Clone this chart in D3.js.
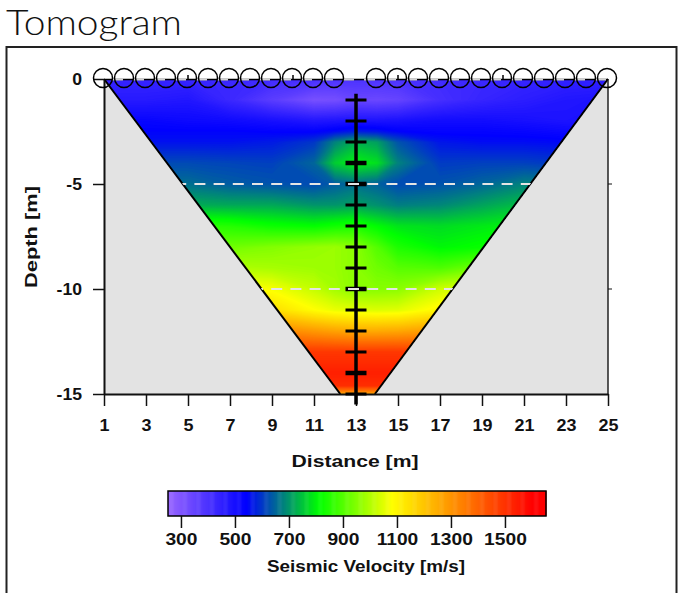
<!DOCTYPE html>
<html>

<head>
    <meta charset="utf-8">
    <title>Tomogram</title>
    <script src="https://d3js.org/d3.v7.min.js" charset="utf-8"></script>
    <style type="text/css">
        body {
            margin: 0;
            background: #fff;
        }

        text {
            font-family: "Liberation Sans", Arial, sans-serif;
            font-weight: bold;
            fill: #111;
        }

        .title {
            font-family: Lato, sans-serif;
            font-weight: 300;
            font-size: 34.5px;
        }

        .axis text {
            font-size: 16px;
        }

        .axis line,
        .axis path {
            stroke: #111;
        }
    </style>
</head>

<body>
    <script type="text/javascript">
        // grid nodes of the tomogram
        var distances = [1, 3, 5, 7, 9, 11, 12, 13, 14, 15, 17, 19, 21, 23, 25];
        var depths = [0, 1, 2, 2.5, 3, 4, 5, 6, 7, 8, 9, 10, 11, 12, 13, 14, 14.6, 15];

        // velocity in m/s, one row per depth
        var velocity = [
            [440, 440, 440, 430, 420, 410, 400, 400, 400, 400, 420, 430, 440, 450, 450],
            [470, 470, 480, 430, 370, 315, 320, 345, 340, 350, 410, 440, 460, 480, 490],
            [530, 530, 520, 515, 500, 480, 485, 490, 490, 495, 510, 510, 500, 490, 490],
            [545, 545, 545, 545, 540, 540, 555, 575, 565, 545, 535, 535, 530, 520, 520],
            [560, 560, 560, 560, 570, 600, 680, 730, 710, 630, 565, 555, 555, 550, 550],
            [620, 620, 620, 615, 610, 650, 760, 800, 780, 680, 605, 610, 610, 600, 600],
            [660, 660, 660, 640, 630, 620, 640, 660, 645, 620, 630, 650, 680, 680, 680],
            [730, 730, 725, 720, 720, 700, 700, 710, 695, 675, 685, 715, 745, 760, 760],
            [860, 860, 860, 850, 825, 815, 830, 840, 810, 785, 775, 790, 805, 830, 830],
            [930, 930, 930, 930, 950, 969, 975, 958, 900, 842, 805, 820, 874, 880, 880],
            [1000, 1000, 1000, 1000, 990, 980, 975, 958, 930, 905, 895, 937, 975, 1000, 1000],
            [1090, 1090, 1090, 1090, 1075, 1020, 985, 955, 955, 960, 1030, 1060, 1060, 1060, 1060],
            [1200, 1200, 1200, 1200, 1150, 1085, 1060, 1050, 1045, 1050, 1100, 1150, 1150, 1150, 1150],
            [1350, 1350, 1350, 1350, 1330, 1290, 1270, 1255, 1255, 1260, 1290, 1350, 1350, 1350, 1350],
            [1480, 1480, 1480, 1480, 1480, 1490, 1490, 1490, 1490, 1490, 1480, 1480, 1480, 1480, 1480],
            [1540, 1540, 1540, 1540, 1540, 1540, 1540, 1540, 1540, 1540, 1540, 1540, 1540, 1540, 1540],
            [1510, 1510, 1510, 1510, 1510, 1510, 1510, 1510, 1510, 1510, 1510, 1510, 1510, 1510, 1510],
            [1260, 1260, 1260, 1260, 1260, 1260, 1260, 1260, 1260, 1260, 1260, 1260, 1260, 1260, 1260]
        ];

        var coverage = [[1, 0], [25, 0], [13.9, 15], [12.25, 15]]; // edge of the ray coverage
        var electrodes = [1, 2, 3, 4, 5, 6, 7, 8, 9, 10, 11, 12, 14, 15, 16, 17, 18, 19, 20, 21, 22, 23, 24, 25];
        var geophones = [1, 2, 3, 4, 5, 6, 7, 8, 9, 10, 11, 12, 13, 14, 15];
        var boreholeX = 13;
        var gridDepths = [0, 5, 10];
        var distanceTicks = [1, 3, 5, 7, 9, 11, 13, 15, 17, 19, 21, 23, 25];
        var depthTicks = [0, 5, 10, 15];
        var legendTicks = [300, 500, 700, 900, 1100, 1300, 1500];
        var colorStops = [250, 540, 810, 1080, 1600];
        var colorRange = ["#9966ff", "#0000ff", "#00ff00", "#ffff00", "#ff0000"];

        var width = 679, height = 593;

        var x = d3.scaleLinear().domain([1, 25]).range([104, 608]);
        var y = d3.scaleLinear().domain([0, 15]).range([79, 394]);
        var legendX = d3.scaleLinear().domain([252, 1652]).range([168, 546]);
        var color = d3.scaleLinear().domain(colorStops).range(colorRange).clamp(true);

        var svg = d3.select("body").append("svg")
            .attr("width", width)
            .attr("height", height)
            .style("display", "block");

        // the labels in the original are stretched sideways
        function stretch(selection, k) {
            selection.each(function () {
                var w = this.getComputedTextLength();
                d3.select(this).attr("textLength", w * k).attr("lengthAdjust", "spacingAndGlyphs");
            });
        }

        svg.append("text").attr("class", "title")
            .attr("x", 6).attr("y", 34.5)
            .attr("textLength", 176).attr("lengthAdjust", "spacingAndGlyphs")
            .text("Tomogram");

        // frame, runs off the bottom of the page
        svg.append("rect")
            .attr("x", 6.5).attr("y", 47)
            .attr("width", 670).attr("height", 570)
            .attr("fill", "none").attr("stroke", "#222").attr("stroke-width", 2);

        // no data background
        svg.append("rect")
            .attr("x", x(1)).attr("y", y(0))
            .attr("width", x(25) - x(1)).attr("height", y(15) - y(0))
            .attr("fill", "#e3e3e3");

        var line = d3.line().x(function (d) { return x(d[0]); }).y(function (d) { return y(d[1]); });

        svg.append("clipPath").attr("id", "coverage")
            .append("path").attr("d", line(coverage) + "Z");

        // filled contours, grid index is mapped back to metres since the nodes are not evenly spaced
        var colIndex = d3.scaleLinear().domain(d3.range(distances.length)).range(distances);
        var rowIndex = d3.scaleLinear().domain(d3.range(depths.length)).range(depths);
        var thresholds = d3.range(250, 1650, 5);
        var contours = d3.contours()
            .size([distances.length, depths.length])
            .thresholds(thresholds)(d3.merge(velocity));

        var gridPath = d3.geoPath(d3.geoTransform({
            point: function (cx, cy) {
                this.stream.point(x(colIndex(cx - 0.5)), y(rowIndex(cy - 0.5)));
            }
        }));

        svg.append("g").attr("clip-path", "url(#coverage)")
            .selectAll("path")
            .data(contours)
            .join("path")
            .attr("d", gridPath)
            .attr("fill", function (d) { return color(d.value); });

        // edges of the coverage
        svg.append("g").selectAll("line")
            .data([[coverage[0], coverage[3]], [coverage[1], coverage[2]]])
            .join("path")
            .attr("d", line)
            .attr("fill", "none").attr("stroke", "#000").attr("stroke-width", 2);

        svg.append("line")
            .attr("x1", x(25)).attr("x2", x(25))
            .attr("y1", y(0)).attr("y2", y(15))
            .attr("stroke", "#222").attr("stroke-width", 1.5);

        // axes
        var xAxis = d3.axisBottom(x).tickValues(distanceTicks).tickSize(12).tickPadding(14).tickSizeOuter(0);
        var yAxis = d3.axisLeft(y).tickValues(depthTicks).tickSize(11).tickPadding(11).tickSizeOuter(0)
            .tickFormat(function (d) { return d === 0 ? "0" : "-" + d; });

        var gx = svg.append("g").attr("class", "axis")
            .attr("transform", "translate(0," + y(15) + ")").call(xAxis);
        gx.select(".domain").attr("stroke-width", 2);
        gx.selectAll(".tick line").attr("stroke-width", 1.5);
        gx.selectAll(".tick text").call(stretch, 1.12);

        var gy = svg.append("g").attr("class", "axis")
            .attr("transform", "translate(" + x(1) + ",0)").call(yAxis);
        gy.select(".domain").attr("stroke-width", 2);
        gy.selectAll(".tick line").attr("stroke-width", 1.5);
        gy.selectAll(".tick text").call(stretch, 1.1);

        // small ticks on the right and top sides
        svg.append("g").selectAll("line")
            .data(depthTicks.slice(1, 3))
            .join("line")
            .attr("x1", x(25)).attr("x2", x(25) + 4)
            .attr("y1", function (d) { return y(d); }).attr("y2", function (d) { return y(d); })
            .attr("stroke", "#111");

        svg.append("line")
            .attr("x1", x(1)).attr("x2", x(25))
            .attr("y1", y(0) + 0.5).attr("y2", y(0) + 0.5)
            .attr("stroke", "#000").attr("stroke-width", 1.5);

        svg.append("g").selectAll("line")
            .data([5, 10, 15, 20])
            .join("line")
            .attr("x1", function (d) { return x(d); }).attr("x2", function (d) { return x(d); })
            .attr("y1", y(0)).attr("y2", y(0) - 4)
            .attr("stroke", "#000").attr("stroke-width", 1.5);

        // borehole with geophones
        svg.append("line")
            .attr("x1", x(boreholeX)).attr("x2", x(boreholeX))
            .attr("y1", y(0.7)).attr("y2", y(15.5))
            .attr("stroke", "#000").attr("stroke-width", 3.5);

        svg.append("g").selectAll("line")
            .data(geophones)
            .join("line")
            .attr("x1", function () { return x(boreholeX) - 10.5; })
            .attr("x2", function () { return x(boreholeX) + 10.5; })
            .attr("y1", function (d) { return y(d); })
            .attr("y2", function (d) { return y(d); })
            .attr("stroke", "#000")
            .attr("stroke-width", function (d) { return d === 4 || d === 5 || d === 10 || d === 14 ? 4.5 : 3; });

        // dashed grid lines go over everything
        svg.append("g").selectAll("line")
            .data(gridDepths.slice(1))
            .join("line")
            .attr("clip-path", "url(#coverage)")
            .attr("x1", x(1)).attr("x2", x(25))
            .attr("y1", function (d) { return y(d); }).attr("y2", function (d) { return y(d); })
            .attr("stroke", "#e4e4e4").attr("stroke-width", 1.8)
            .attr("stroke-dasharray", "11 8.2").attr("stroke-dashoffset", 5.6);

        svg.append("line")
            .attr("x1", x(1)).attr("x2", x(25))
            .attr("y1", y(gridDepths[0]) + 0.5).attr("y2", y(gridDepths[0]) + 0.5)
            .attr("stroke", "#d2d2d2").attr("stroke-width", 2)
            .attr("stroke-dasharray", "11 10").attr("stroke-dashoffset", 13);

        // electrodes on the surface
        svg.append("g").selectAll("circle")
            .data(electrodes)
            .join("circle")
            .attr("cx", function (d) { return x(d) - 1; })
            .attr("cy", y(0) - 1)
            .attr("r", 9.5)
            .attr("fill", "none").attr("stroke", "#000").attr("stroke-width", 1.5);

        // axis titles
        svg.append("text")
            .attr("transform", "translate(37,237) rotate(-90)")
            .attr("text-anchor", "middle")
            .attr("textLength", 102).attr("lengthAdjust", "spacingAndGlyphs")
            .style("font-size", "17px")
            .text("Depth [m]");

        svg.append("text")
            .attr("x", 355).attr("y", 467)
            .attr("text-anchor", "middle")
            .attr("textLength", 127).attr("lengthAdjust", "spacingAndGlyphs")
            .style("font-size", "17px")
            .text("Distance [m]");

        // colour bar
        var legendCells = d3.range(252, 1652, 4);
        svg.append("g").selectAll("rect")
            .data(legendCells)
            .join("rect")
            .attr("x", function (d) { return legendX(d); })
            .attr("y", 491)
            .attr("width", legendX(256) - legendX(252) + 0.5)
            .attr("height", 25)
            .attr("fill", function (d) { return color(d); });

        svg.append("rect")
            .attr("x", legendX(252)).attr("y", 491)
            .attr("width", legendX(1652) - legendX(252)).attr("height", 25)
            .attr("fill", "none").attr("stroke", "#000").attr("stroke-width", 1.5);

        var legendAxis = d3.axisBottom(legendX).tickValues(legendTicks).tickSize(12).tickPadding(5.5).tickSizeOuter(0)
            .tickFormat(d3.format("d"));
        var gl = svg.append("g").attr("class", "axis")
            .attr("transform", "translate(0,516)").call(legendAxis);
        gl.select(".domain").remove();
        gl.selectAll(".tick line").attr("stroke-width", 1.5);
        gl.selectAll(".tick text").call(stretch, 1.2);

        svg.append("text")
            .attr("x", 366).attr("y", 572)
            .attr("text-anchor", "middle")
            .attr("textLength", 198).attr("lengthAdjust", "spacingAndGlyphs")
            .style("font-size", "16.5px")
            .text("Seismic Velocity [m/s]");
    </script>
</body>

</html>
